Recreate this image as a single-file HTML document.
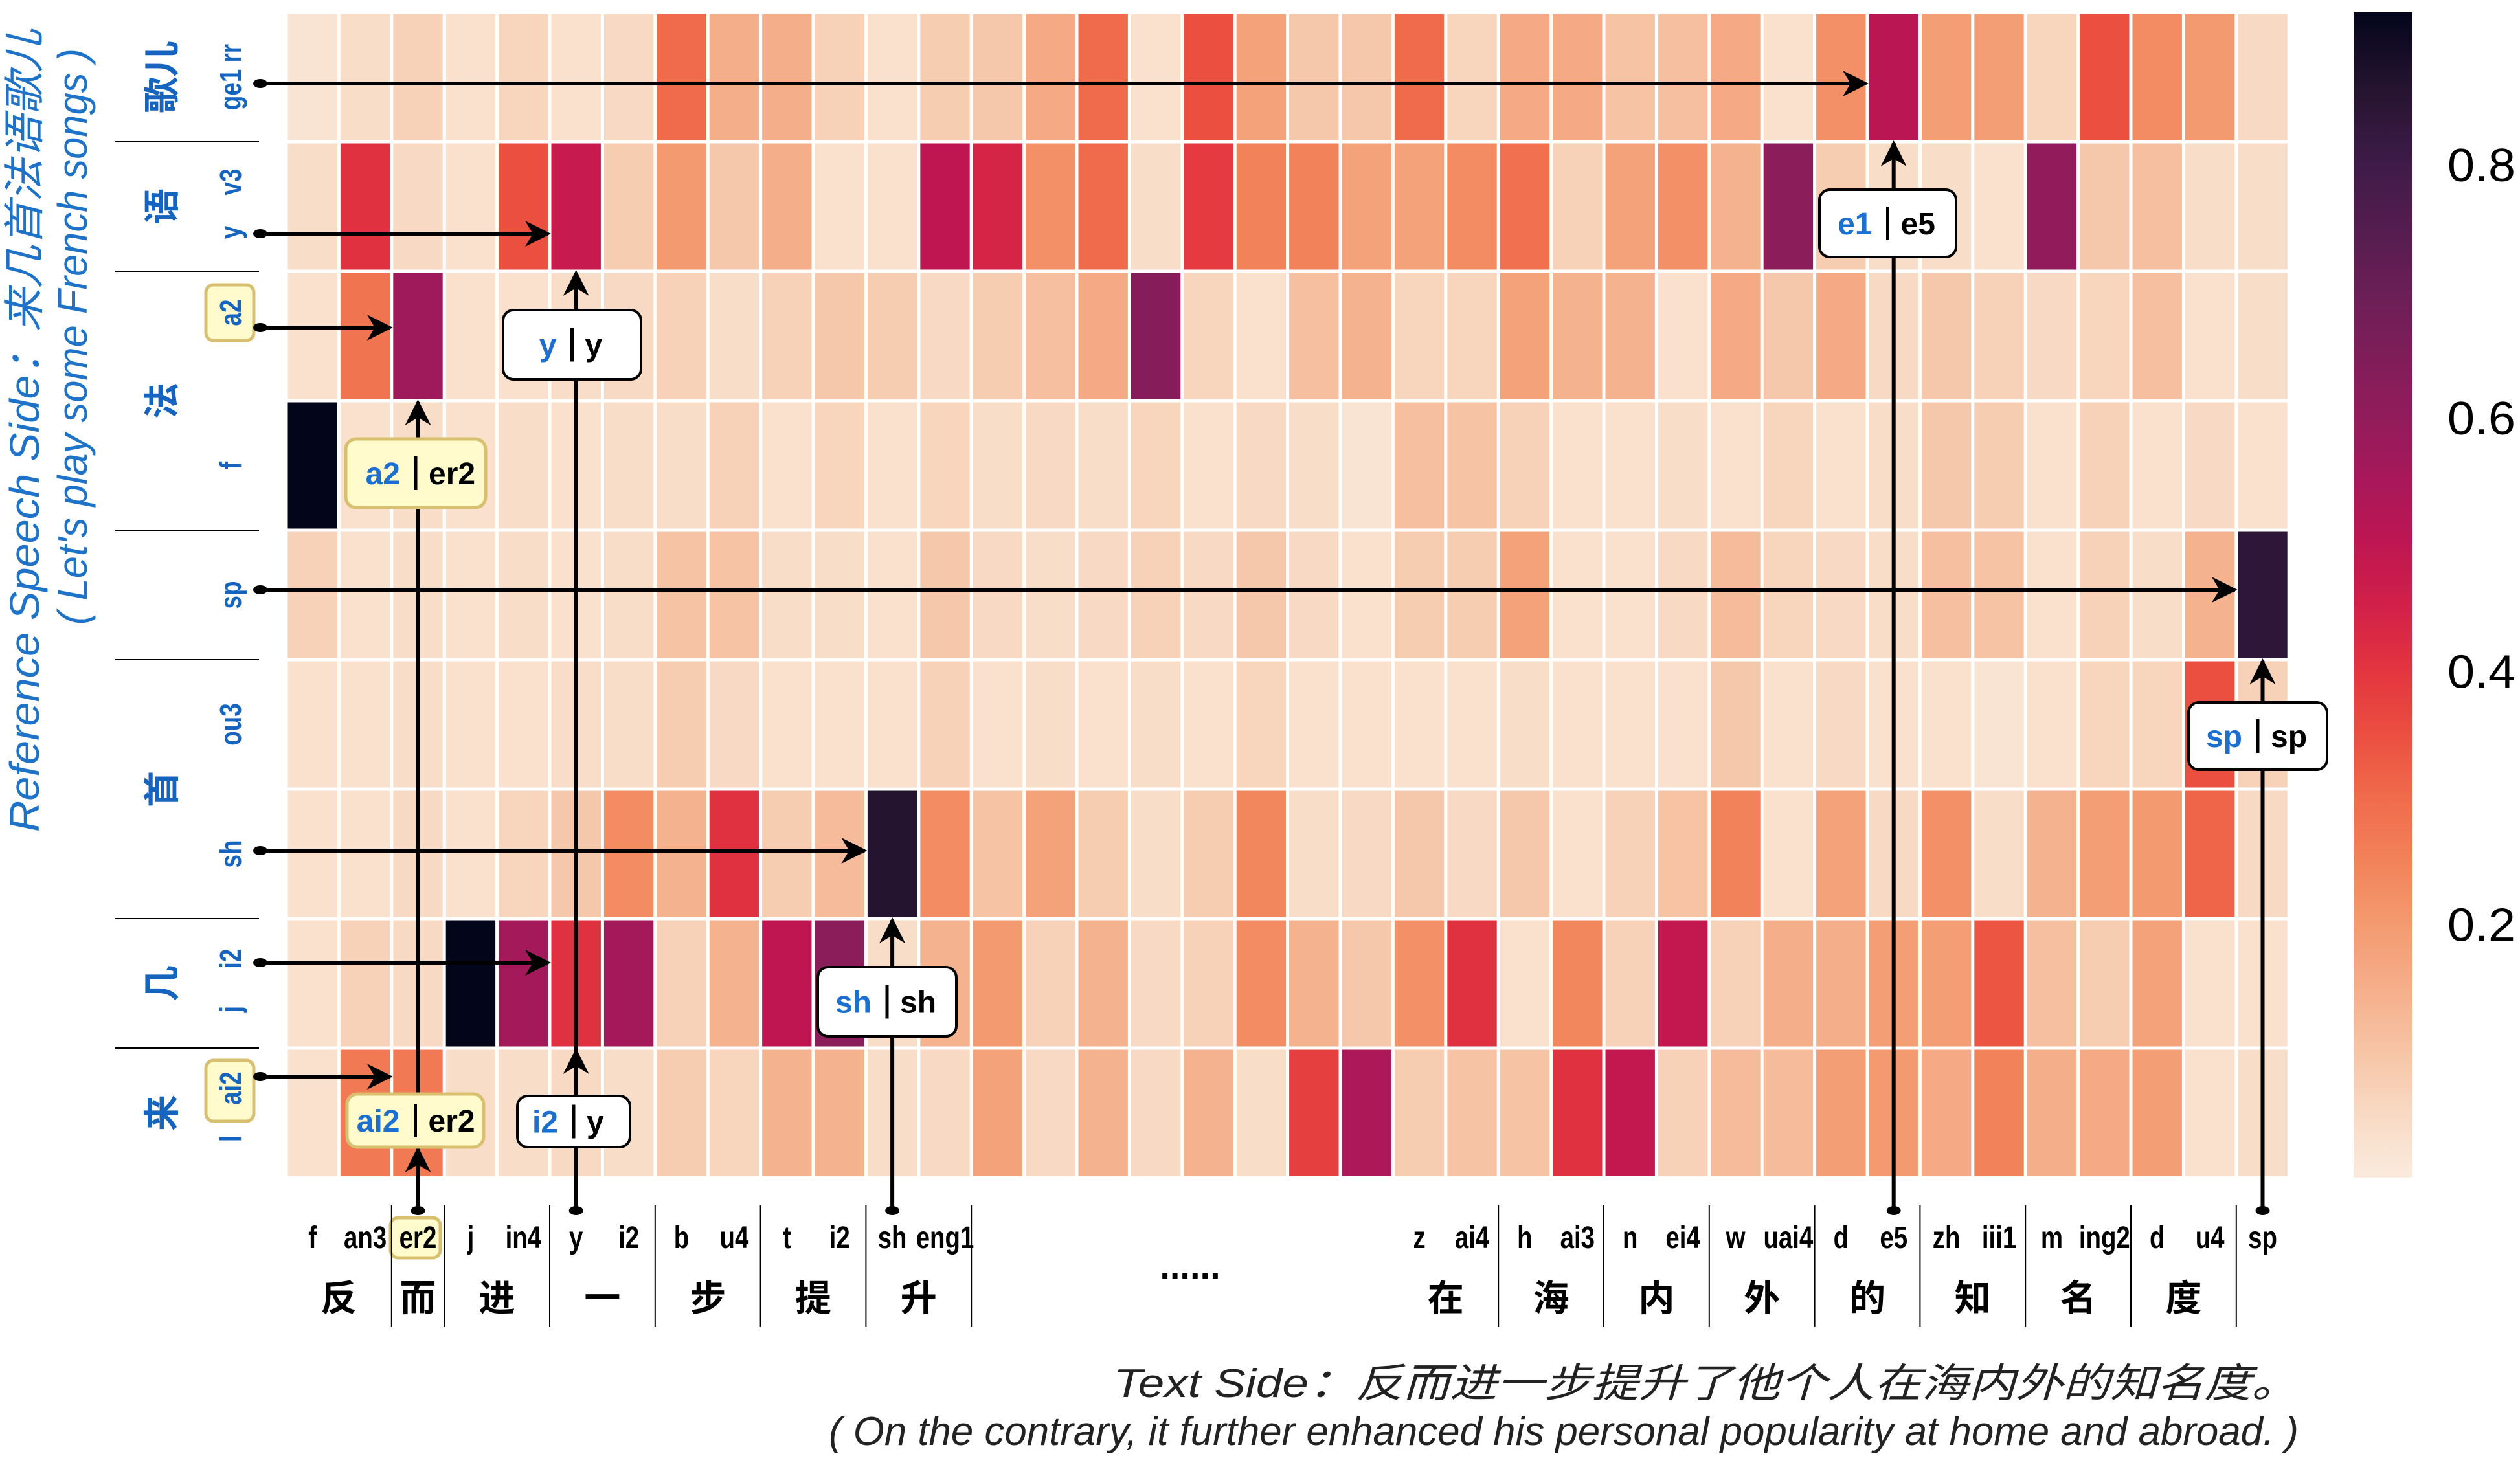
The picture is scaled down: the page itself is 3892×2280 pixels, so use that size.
<!DOCTYPE html>
<html><head><meta charset="utf-8">
<style>
html,body{margin:0;padding:0;background:#fff;}
svg{display:block;}
</style></head>
<body>
<svg id="chart" xmlns="http://www.w3.org/2000/svg" width="3892" height="2280" viewBox="0 0 3892 2280">
  <defs>
    <marker id="ah" viewBox="0 0 10 10" refX="9" refY="5" markerWidth="44" markerHeight="40" markerUnits="userSpaceOnUse" orient="auto-start-reverse">
      <path d="M0,0 L10,5 L0,10 L3,5 z" fill="#000"/>
    </marker>
    <linearGradient id="cbgrad" x1="0" y1="1" x2="0" y2="0"></linearGradient>
  </defs>
  <g id="cells"></g>
  <g id="axes"></g>
  <g id="anno"></g>
  <g id="cbar"></g>
</svg>
<script>
// ---- data ----
const rowPhonA = ["ge1 rr","y","a2","f","sp","ou3","sh","j","l"];
const rowPhonB = ["","v3","","","","","","i2","ai2"];
const colPhonemes = ["f","an3","er2","j","in4","y","i2","b","u4","t","i2","sh","eng1","","","","","","","","","z","ai4","h","ai3","n","ei4","w","uai4","d","e5","zh","iii1","m","ing2","d","u4","sp"];
const wordChars = ["反","而","进","一","步","提","升","在","海","内","外","的","知","名","度"];
const wordStart = [0,2,3,5,7,9,11,21,23,25,27,29,31,33,35];
const wordEnd   = [2,3,5,7,9,11,13,23,25,27,29,31,33,35,37];
const rowChars = ["歌儿","语","法","首","几","来"];
const rowCharStart = [0,1,2,5,7,8];
const rowCharEnd   = [1,2,4,7,8,9];
const cbTicks = [0.2,0.4,0.6,0.8];
const row0 = [0.02,0.04,0.07,0.03,0.06,0.03,0.05,0.30,0.15,0.15,0.07,0.03,0.08,0.09,0.16,0.30,0.03,0.35,0.18,0.09,0.09,0.30,0.06,0.16,0.16,0.10,0.11,0.16,0.03,0.22,0.51,0.19,0.19,0.06,0.35,0.23,0.20,0.05];
const row1 = [0.04,0.41,0.05,0.03,0.35,0.48,0.08,0.20,0.09,0.15,0.03,0.03,0.50,0.44,0.22,0.30,0.04,0.39,0.25,0.25,0.18,0.18,0.23,0.29,0.07,0.18,0.22,0.14,0.62,0.08,0.04,0.04,0.03,0.60,0.09,0.11,0.04,0.04];
const row2 = [0.03,0.28,0.57,0.03,0.03,0.04,0.05,0.07,0.04,0.07,0.09,0.08,0.05,0.08,0.11,0.16,0.63,0.06,0.03,0.11,0.14,0.06,0.06,0.18,0.14,0.14,0.03,0.16,0.09,0.16,0.05,0.09,0.07,0.05,0.06,0.11,0.03,0.04];
const row3 = [0.92,0.03,0.04,0.03,0.04,0.03,0.04,0.04,0.07,0.03,0.06,0.03,0.06,0.04,0.05,0.04,0.06,0.03,0.05,0.04,0.02,0.11,0.10,0.07,0.03,0.03,0.04,0.03,0.06,0.03,0.04,0.09,0.08,0.03,0.07,0.03,0.05,0.03];
const row4 = [0.07,0.03,0.04,0.03,0.04,0.03,0.04,0.10,0.10,0.04,0.04,0.03,0.09,0.05,0.04,0.05,0.07,0.05,0.09,0.05,0.03,0.08,0.08,0.18,0.03,0.03,0.05,0.12,0.06,0.05,0.04,0.11,0.10,0.03,0.07,0.04,0.14,0.84];
const row5 = [0.03,0.03,0.04,0.03,0.03,0.04,0.04,0.08,0.05,0.03,0.03,0.03,0.07,0.03,0.04,0.03,0.04,0.03,0.06,0.03,0.03,0.03,0.03,0.04,0.03,0.03,0.03,0.09,0.03,0.05,0.03,0.03,0.02,0.03,0.06,0.06,0.35,0.07];
const row6 = [0.03,0.03,0.05,0.03,0.06,0.09,0.23,0.14,0.41,0.08,0.12,0.86,0.23,0.10,0.18,0.08,0.04,0.08,0.24,0.04,0.05,0.09,0.05,0.09,0.03,0.07,0.10,0.25,0.03,0.18,0.05,0.22,0.04,0.14,0.19,0.20,0.31,0.05];
const row7 = [0.03,0.07,0.05,0.92,0.56,0.41,0.56,0.07,0.14,0.50,0.62,0.04,0.14,0.20,0.07,0.14,0.05,0.07,0.23,0.14,0.09,0.22,0.41,0.03,0.24,0.07,0.49,0.07,0.15,0.15,0.19,0.19,0.34,0.11,0.08,0.18,0.03,0.03];
const row8 = [0.03,0.27,0.27,0.04,0.04,0.05,0.04,0.08,0.06,0.14,0.14,0.04,0.05,0.18,0.05,0.14,0.05,0.14,0.04,0.38,0.54,0.08,0.10,0.10,0.41,0.49,0.07,0.12,0.12,0.19,0.20,0.16,0.25,0.15,0.16,0.19,0.03,0.04];
const matrix = [row0,row1,row2,row3,row4,row5,row6,row7,row8];

// ---- layout ----
const NS = "http://www.w3.org/2000/svg";
const X0 = 442, CW = 81.4, Y0 = 19, RH = 200, GAP = 5;
const VMIN = 0, VMAX = 0.92;
const nCols = colPhonemes.length, nRows = rowPhonA.length;
const xs = i => X0 + i * CW;
const ys = r => Y0 + r * RH;
const CB_X = 3635, CB_W = 90, CB_TOP = 19, CB_BOT = 1819;
const cbY = v => CB_BOT - (v - VMIN) / (VMAX - VMIN) * (CB_BOT - CB_TOP);

const stops = [[0,"#faebdd"],[0.05,"#f8dac4"],[0.10,"#f6c4a5"],[0.15,"#f5ae8a"],[0.20,"#f49a70"],[0.25,"#f28259"],[0.30,"#f06b4c"],[0.35,"#eb4f40"],[0.40,"#e3353f"],[0.45,"#d22149"],[0.50,"#bf1651"],[0.55,"#a8185a"],[0.60,"#921c5b"],[0.70,"#6a1f56"],[0.80,"#3e1b48"],[0.86,"#25142f"],[0.92,"#03051a"]];
function hex(h){return [1,3,5].map(i=>parseInt(h.substr(i,2),16));}
function cmap(v){
  v=Math.max(VMIN,Math.min(VMAX,v));
  for(let i=1;i<stops.length;i++){
    if(v<=stops[i][0]){
      const a=stops[i-1],b=stops[i];const t=(v-a[0])/(b[0]-a[0]);
      const ca=hex(a[1]),cb=hex(b[1]);
      return "rgb("+ca.map((c,k)=>Math.round(c+(cb[k]-c)*t)).join(",")+")";
    }
  }
  return stops[stops.length-1][1];
}
function mk(tag, attrs, parent, text){
  const e=document.createElementNS(NS,tag);
  for(const k in attrs) e.setAttribute(k,attrs[k]);
  if(text!==undefined) e.textContent=text;
  parent.appendChild(e);
  return e;
}
const gCells=document.getElementById("cells");
const gAxes=document.getElementById("axes");
const gAnno=document.getElementById("anno");
const gCb=document.getElementById("cbar");

// ---- cells ----
for(let r=0;r<nRows;r++){
  for(let c=0;c<nCols;c++){
    const e=mk("rect",{x:xs(c)+GAP/2,y:ys(r)+GAP/2,width:CW-GAP,height:RH-GAP,fill:cmap(matrix[r][c])},gCells);
    
    
  }
}

const bold = '"Liberation Sans","Noto Sans CJK SC",sans-serif';
const cjk = '"Liberation Sans","Noto Sans CJK SC",sans-serif';
const BLUE = "#1565c0";
const NARROW = 0.8;

// highlight boxes behind labels
[[318,440,74,86,"y-label-highlight-a2"],[318,1638,74,94,"y-label-highlight-ai2"],[603,1881,77,62,"x-label-highlight-er2"]].forEach(([x,y,w,h,n])=>{
  const r=mk("rect",{x,y,width:w,height:h,rx:12,fill:"#fffbcc",stroke:"#d8c070","stroke-width":5},gAxes);
  
  
});

// ---- left axis ----
for(let r=0;r<nRows;r++){
  const cy=ys(r)+RH/2;
  const two=rowPhonB[r]!=="";
  const ya=two?cy+40:cy;
  const t=mk("text",{x:0,y:0,transform:`translate(372,${r===2?483:ya}) rotate(-90) scale(${NARROW},1)`,"text-anchor":"middle","font-family":bold,"font-weight":"bold","font-size":46,fill:BLUE},gAxes,rowPhonA[r]);
  
  
  if(two){
    const t2=mk("text",{x:0,y:0,transform:`translate(372,${cy-38}) rotate(-90) scale(${NARROW},1)`,"text-anchor":"middle","font-family":bold,"font-weight":"bold","font-size":46,fill:BLUE},gAxes,rowPhonB[r]);
    
    
  }
}
for(let i=0;i<rowChars.length;i++){
  const cy=(ys(rowCharStart[i])+ys(rowCharEnd[i]))/2;
  const t=mk("text",{x:0,y:0,transform:`translate(270,${cy}) rotate(-90)`,"text-anchor":"middle","font-family":cjk,"font-weight":"bold","font-size":56,fill:BLUE},gAxes,rowChars[i]);
  
  
}
[1,2,4,5,7,8].forEach(r=>{
  const l=mk("line",{x1:178,x2:400,y1:ys(r),y2:ys(r),stroke:"#000","stroke-width":2},gAxes);
  
  
});
const tt=mk("text",{x:0,y:0,transform:"translate(60,665) rotate(-90)","text-anchor":"middle","font-family":cjk,"font-style":"italic","font-size":64,fill:"#1e73c8",textLength:1240,lengthAdjust:"spacingAndGlyphs"},gAxes,"Reference Speech Side：来几首法语歌儿");


const tt2=mk("text",{x:0,y:0,transform:"translate(134,520) rotate(-90)","text-anchor":"middle","font-family":cjk,"font-style":"italic","font-size":64,fill:"#1e73c8",textLength:890,lengthAdjust:"spacingAndGlyphs"},gAxes,"( Let's play some French songs )");



// ---- bottom axis ----
for(let c=0;c<nCols;c++){
  const lab=colPhonemes[c];
  if(!lab) continue;
  const t=mk("text",{x:0,y:0,transform:`translate(${xs(c)+CW/2},1928) scale(${NARROW},1)`,"text-anchor":"middle","font-family":bold,"font-weight":"bold","font-size":48,fill:"#000"},gAxes,lab);
  
  
}
for(let i=0;i<wordChars.length;i++){
  const cx=(xs(wordStart[i])+xs(wordEnd[i]))/2;
  const t=mk("text",{x:cx,y:2025,"text-anchor":"middle","font-family":cjk,"font-weight":"bold","font-size":56,fill:"#000"},gAxes,wordChars[i]);
  
  
}
[2,3,5,7,9,11,13,23,25,27,29,31,33,35,37].forEach(c=>{
  const l=mk("line",{x1:xs(c),x2:xs(c),y1:1862,y2:2050,stroke:"#000","stroke-width":2},gAxes);
  
  
});
const ell=mk("text",{x:1838,y:1975,"text-anchor":"middle","font-family":cjk,"font-weight":"bold","font-size":56,fill:"#000"},gAxes,"......");


const bt=mk("text",{x:3550,y:2158,"text-anchor":"end","font-family":cjk,"font-style":"italic","font-size":62,fill:"#222",textLength:1830,lengthAdjust:"spacingAndGlyphs"},gAxes,"Text Side：反而进一步提升了他个人在海内外的知名度。");


const bt2=mk("text",{x:3550,y:2232,"text-anchor":"end","font-family":cjk,"font-style":"italic","font-size":62,fill:"#222",textLength:2270,lengthAdjust:"spacingAndGlyphs"},gAxes,"( On the contrary, it further enhanced his personal popularity at home and abroad. )");



// ---- arrows ----
function arrow(x1,y1,x2,y2){
  return mk("line",{x1,y1,x2,y2,stroke:"#000","stroke-width":6,"marker-end":"url(#ah)"},gAnno);
}
function dot(x,y){return mk("ellipse",{cx:x,cy:y,rx:11,ry:7,fill:"#000"},gAnno);}
const hArrowY = [129,361,506,0,911,0,1314,1487,1663];
[[0,30],[1,5],[2,2],[4,37],[6,11],[7,5],[8,2]].forEach(([r,c])=>{
  const y=hArrowY[r];
  const a=arrow(402,y,xs(c)-2,y);
  
  
  const d=dot(402,y);
  
  
});
[[2,2],[5,1],[11,6],[30,0],[37,4]].forEach(([c,r])=>{
  const x=xs(c)+CW/2;
  const a=arrow(x,1870,x,ys(r+1)+2);
  
  
  const d=dot(x,1870);
  
  
});
[[xs(2)+CW/2,1775],[xs(5)+CW/2,ys(8)+4]].forEach(([x,y])=>{
  const a=arrow(x,y+60,x,y);
  
  
});

// ---- boxes ----
function box(x,y,w,h,a,b,yellow,name){
  const g=mk("g",{},gAnno);
  
  
  mk("rect",{x,y,width:w,height:h,rx:16,fill:yellow?"#fffbcc":"#fff",stroke:yellow?"#d8c070":"#000","stroke-width":yellow?5:4},g);
  const cy=y+h/2+17;
  mk("text",{x:x+w/2-24,y:cy,"text-anchor":"end","font-family":cjk,"font-weight":"bold","font-size":48,fill:"#1a6fd0"},g,a);
  mk("line",{x1:x+w/2,x2:x+w/2,y1:y+h/2-26,y2:y+h/2+26,stroke:"#000","stroke-width":5},g);
  mk("text",{x:x+w/2+20,y:cy,"text-anchor":"start","font-family":cjk,"font-weight":"bold","font-size":48,fill:"#000"},g,b);
  return g;
}
box(777,479,213,107,"y","y",false,"annotation-y-y");
box(534,678,216,106,"a2","er2",true,"annotation-a2-er2");
box(536,1690,211,82,"ai2","er2",true,"annotation-ai2-er2");
box(799,1693,174,79,"i2","y",false,"annotation-i2-y");
box(1263,1494,214,107,"sh","sh",false,"annotation-sh-sh");
box(2810,293,211,104,"e1","e5",false,"annotation-e1-e5");
box(3380,1085,214,104,"sp","sp",false,"annotation-sp-sp");

// ---- colorbar ----
const grad=document.getElementById("cbgrad");
stops.forEach(([v,c])=>{
  mk("stop",{offset:((v-VMIN)/(VMAX-VMIN)),"stop-color":c},grad);
});
const cb=mk("rect",{x:CB_X,y:CB_TOP,width:CB_W,height:CB_BOT-CB_TOP,fill:"url(#cbgrad)"},gCb);


cbTicks.forEach(v=>{
  const t=mk("text",{x:3780,y:cbY(v)+26,"font-family":'"Liberation Sans",sans-serif',"font-size":72,fill:"#000",textLength:105,lengthAdjust:"spacingAndGlyphs"},gCb,v.toFixed(1));
  
  
});
</script>
</body></html>
